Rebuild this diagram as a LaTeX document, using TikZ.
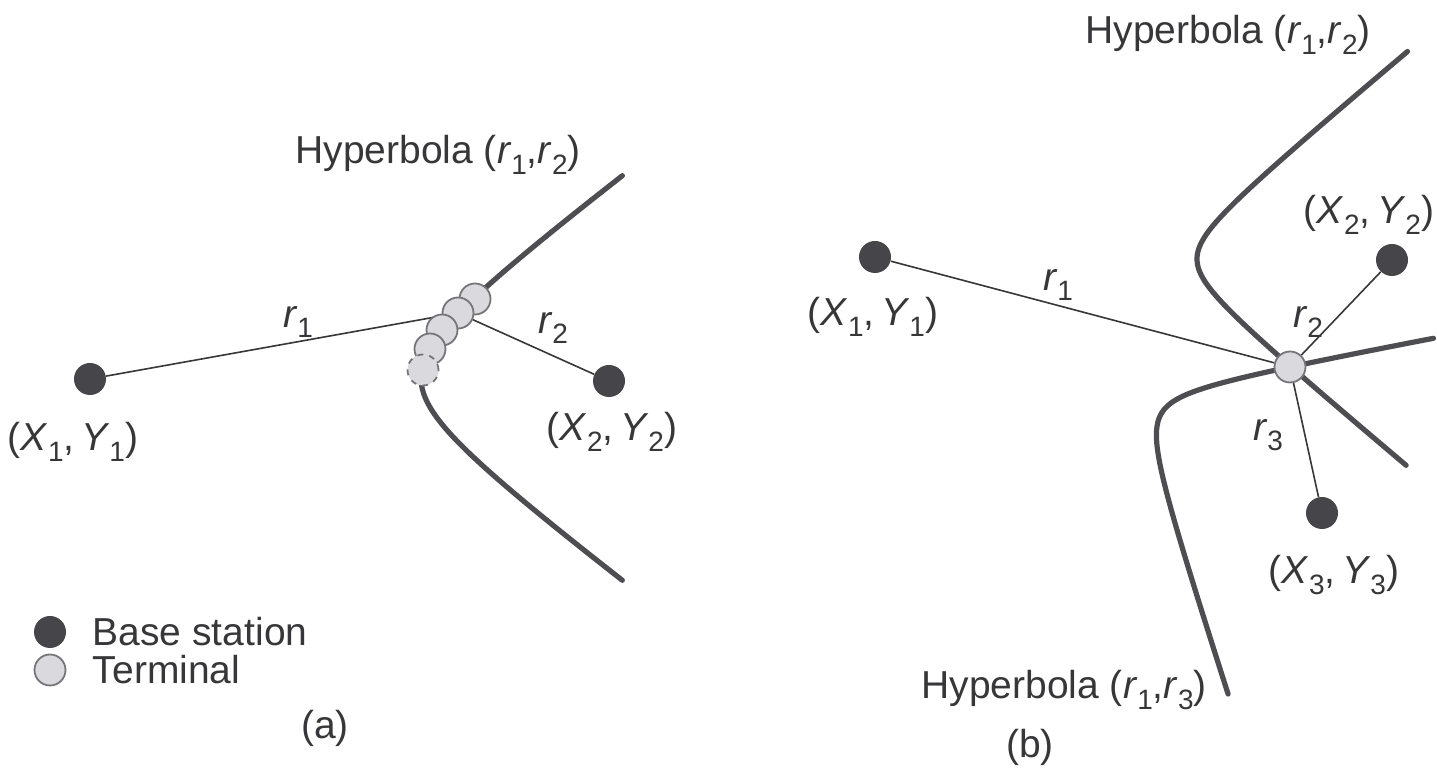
\documentclass[tikz,border=0pt]{standalone}
\usepackage{fontspec}
\setmainfont{Liberation Sans}
\usetikzlibrary{positioning, backgrounds}
\definecolor{stationgray}{RGB}{70, 70, 74}
\definecolor{curvegray}{RGB}{78, 78, 82}
\definecolor{termfill}{RGB}{218, 218, 222}
\definecolor{termedge}{RGB}{118, 118, 122}
\definecolor{labelgray}{RGB}{55, 55, 58}
\newcommand{\subdigit}[1]{\raisebox{-0.5ex}{\fontsize{14}{14}\selectfont #1}}
\newcommand{\rlab}[1]{\textit{r}\subdigit{#1}}
\newcommand{\xylab}[1]{(\textit{X}\subdigit{#1},\,\textit{Y}\subdigit{#1})}

\begin{document}
\begin{tikzpicture}[
    x=0.5pt, y=-0.5pt,
    station/.style={circle, fill=stationgray, minimum size=16pt, inner sep=0pt},
    terminal/.style={circle, draw=termedge, fill=termfill, line width=0.9pt, minimum size=15.5pt, inner sep=0pt},
    ghost/.style={terminal, dashed},
    hyperbola/.style={line width=2.6pt, curvegray, line cap=round},
    rangeline/.style={line width=0.8pt, labelgray},
    txt/.style={font=\fontsize{19.5}{23}\selectfont, text=labelgray, inner sep=1pt},
    keytxt/.style={txt, inner sep=0pt, text height=14pt, text depth=0pt}
]
\useasboundingbox (0,0) rectangle (1437,779);

% (a) Two base stations, one hyperbola
\node (bsA1) [station] at (90,379) {};
\node (bsA2) [station] at (609,381) {};
\node (tA1) [terminal] at (475,299) {};
\node (tA2) [terminal] at (458,313) {};
\node (tA3) [terminal] at (442,330) {};
\node (tA4) [terminal] at (430,349) {};
\node (tA5) [ghost] at (423,370) {};

\node (hypA) [txt] at (438,155) {Hyperbola (\rlab{1},\rlab{2})};
\node (rA1) [txt] at (298,322) {\rlab{1}};
\node (rA2) [txt] at (553,328) {\rlab{2}};
\node (xyA1) [txt] at (73,442) {\xylab{1}};
\node (xyA2) [txt] at (612,432) {\xylab{2}};

% legend
\node (keyB) [station] at (50,632) {};
\node (keyBtxt) [keytxt, right=13pt of keyB] {Base station};
\node (keyT) [terminal] at (50,670) {};
\node (keyTtxt) [keytxt, right=13pt of keyT] {Terminal};
\node (capA) [txt] at (325,728) {(a)};

% (b) Three base stations, two hyperbolas
\node (bsB1) [station] at (875,257) {};
\node (bsB2) [station] at (1392,260) {};
\node (bsB3) [station] at (1322,513) {};
\node (tB) [terminal] at (1290,367) {};

\node (hypB12) [txt] at (1228,35) {Hyperbola (\rlab{1},\rlab{2})};
\node (hypB13) [txt] at (1064,690) {Hyperbola (\rlab{1},\rlab{3})};
\node (rB1) [txt] at (1058,285) {\rlab{1}};
\node (rB2) [txt] at (1308,322) {\rlab{2}};
\node (rB3) [txt] at (1268,435) {\rlab{3}};
\node (xyB1) [txt] at (873,317) {\xylab{1}};
\node (xyB2) [txt] at (1369,215) {\xylab{2}};
\node (xyB3) [txt] at (1334,575) {\xylab{3}};
\node (capB) [txt] at (1030,747) {(b)};

% Curves and ranges
\begin{scope}[on background layer]
\draw [hyperbola, shift={(341,378)}] plot[domain=-1.93:1.93, samples=80] ({80*cosh(\x)}, {60*sinh(\x)});
\draw [hyperbola, shift={(1155,259)}] plot[domain=-2.48:2.475, samples=80] ({42*cosh(\x)}, {35*sinh(\x)});
\draw [hyperbola, shift={(1127,393)}, rotate=-30.65] plot[domain=-2.46:2.48, samples=80] ({40*cosh(\x)}, {35*sinh(\x)});

\draw [rangeline] (bsA1) -- (tA2);
\draw [rangeline] (tA2) -- (bsA2);
\draw [rangeline] (bsB1) -- (tB);
\draw [rangeline] (tB) -- (bsB2);
\draw [rangeline] (tB) -- (bsB3);
\end{scope}

\end{tikzpicture}
\end{document}
